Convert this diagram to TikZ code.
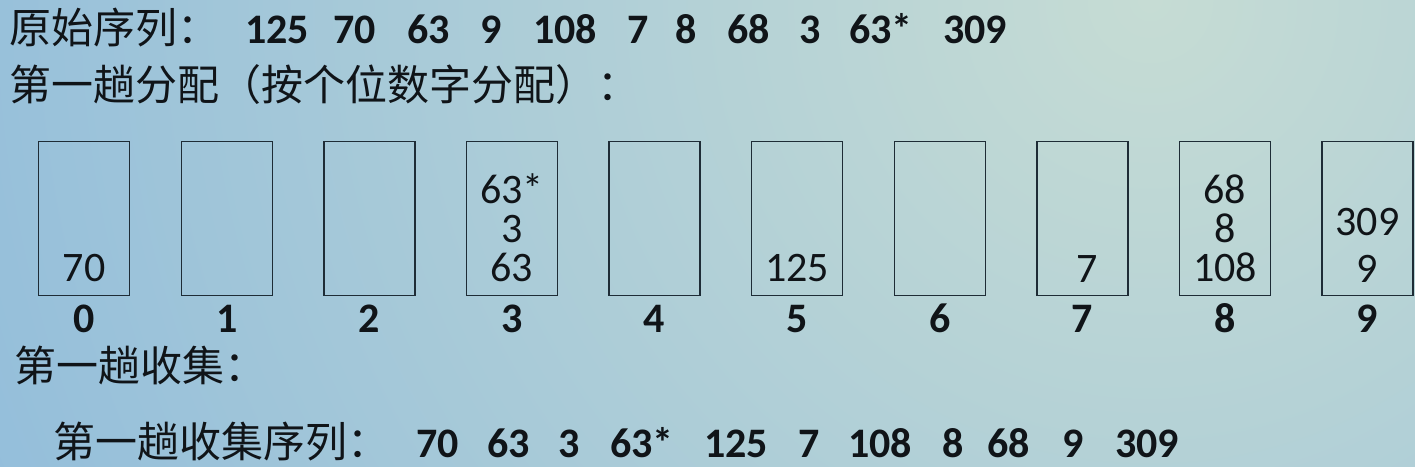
\documentclass[tikz,border=0pt]{standalone}
\usepackage{fontspec}
\setmainfont{Carlito}
\newfontfamily\cjk{Noto Sans CJK SC}
\usetikzlibrary{calc}
\definecolor{pa}{HTML}{C6DCD4}
\definecolor{bu}{HTML}{92BDDB}
\definecolor{ln}{HTML}{1E2C36}
\definecolor{tx}{HTML}{101418}

\begin{document}
\begin{tikzpicture}[x=1pt, y=-1pt,
    zh/.style={font=\fontsize{42}{50}\selectfont\cjk, text=tx, inner sep=0pt, anchor=base west},
    num/.style={font=\fontsize{42}{50}\selectfont\bfseries, text=tx, inner sep=0pt, anchor=base west},
    val/.style={font=\fontsize{42}{39}\selectfont, text=tx, inner sep=0pt, align=center, anchor=south},
    idx/.style={font=\fontsize{42}{50}\selectfont\bfseries, text=tx, inner sep=0pt, anchor=base},
    bucket/.style={draw=ln, line width=1.3pt, minimum width=91pt, minimum height=154pt, inner sep=0pt, anchor=north west}]

  % background
  \begin{scope}
    \clip (0,0) rectangle (1415,466);
    \fill[bu] (0,0) rectangle (1415,466);
    \shade[inner color=pa, outer color=bu] (1150,0) circle (1300);
  \end{scope}
  \useasboundingbox (0,0) rectangle (1415,466);

  % original sequence
  \node[zh] (t1) at (9,43) {原始序列：};
  \node[num] (a1) at (245,43) {125};
  \node[num] (a2) at (333,43) {70};
  \node[num] (a3) at (407,43) {63};
  \node[num] (a4) at (480,43) {9};
  \node[num] (a5) at (533,43) {108};
  \node[num] (a6) at (627,43) {7};
  \node[num] (a7) at (675,43) {8};
  \node[num] (a8) at (727,43) {68};
  \node[num] (a9) at (799,43) {3};
  \node[num] (a10) at (849,43) {63*};
  \node[num] (a11) at (943,43) {309};

  \node[zh] (t2) at (9,100) {第一趟分配（按个位数字分配）：};

  % buckets
  \node[bucket] (b0) at (38,141) {};
  \node[bucket] (b1) at (180.6,141) {};
  \node[bucket] (b2) at (323.2,141) {};
  \node[bucket] (b3) at (465.8,141) {};
  \node[bucket] (b4) at (608.4,141) {};
  \node[bucket] (b5) at (751,141) {};
  \node[bucket] (b6) at (893.6,141) {};
  \node[bucket] (b7) at (1036.2,141) {};
  \node[bucket] (b8) at (1178.8,141) {};
  \node[bucket] (b9) at (1321.4,141) {};

  \node[idx] (l0) at ($(b0.south)+(0,36)$) {0};
  \node[idx] (l1) at ($(b1.south)+(0,36)$) {1};
  \node[idx] (l2) at ($(b2.south)+(0,36)$) {2};
  \node[idx] (l3) at ($(b3.south)+(0,36)$) {3};
  \node[idx] (l4) at ($(b4.south)+(0,36)$) {4};
  \node[idx] (l5) at ($(b5.south)+(0,36)$) {5};
  \node[idx] (l6) at ($(b6.south)+(0,36)$) {6};
  \node[idx] (l7) at ($(b7.south)+(0,36)$) {7};
  \node[idx] (l8) at ($(b8.south)+(0,36)$) {8};
  \node[idx] (l9) at ($(b9.south)+(0,36)$) {9};

  % bucket contents
  \node[val] (v0) at ($(b0.south)+(0,-14)$) {70};
  \node[val] (v3) at ($(b3.south)+(0,-14)$) {63*\\3\\63};
  \node[val] (v5) at ($(b5.south)+(0,-14)$) {125};
  \node[val] (v7) at ($(b7.south)+(5,-14)$) {7};
  \node[val] (v8) at ($(b8.south)+(0,-14)$) {68\\8\\108};
  \node[val] (v9) at ($(b9.south)+(0,-14)$) {9};
  \node[val] (v9b) at ($(b9.south)+(0,-60)$) {309};

  % collected sequence
  \node[zh] (t3) at (14,381) {第一趟收集：};
  \node[zh] (t4) at (53,457) {第一趟收集序列：};
  \node[num] (c1) at (416,457) {70};
  \node[num] (c2) at (487,457) {63};
  \node[num] (c3) at (558,457) {3};
  \node[num] (c4) at (610,457) {63*};
  \node[num] (c5) at (704,457) {125};
  \node[num] (c6) at (798,457) {7};
  \node[num] (c7) at (848,457) {108};
  \node[num] (c8) at (942,457) {8};
  \node[num] (c9) at (987,457) {68};
  \node[num] (c10) at (1062,457) {9};
  \node[num] (c11) at (1115,457) {309};

\end{tikzpicture}
\end{document}
